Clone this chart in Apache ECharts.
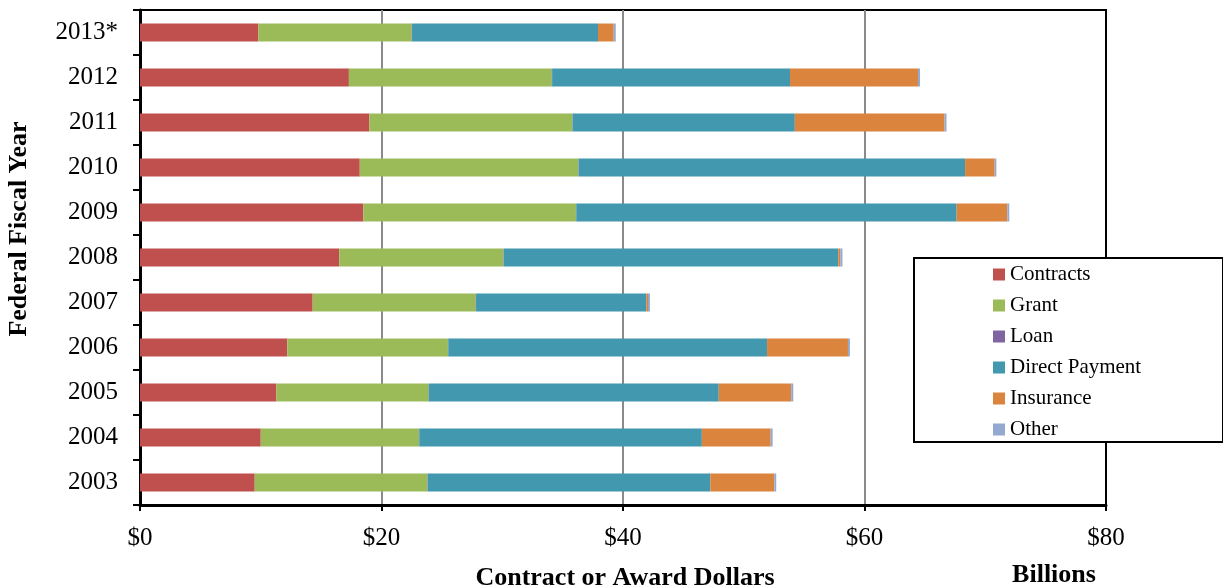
<!DOCTYPE html>
<html>
<head>
<meta charset="utf-8">
<script src="https://cdn.jsdelivr.net/npm/echarts@6/dist/echarts.min.js"></script>
<style>html,body{margin:0;padding:0;background:#fff}#c{width:1223px;height:588px}</style>
</head>
<body>
<div id="c"></div>
<script>
const categories = ['2003','2004','2005','2006','2007','2008','2009','2010','2011','2012','2013*'];
const contracts = [9.5, 10.0, 11.3, 12.2, 14.3, 16.5, 18.5, 18.2, 19.0, 17.3, 9.8];
const grant     = [14.3, 13.1, 12.6, 13.3, 13.5, 13.6, 17.6, 18.1, 16.8, 16.8, 12.7];
const loan      = [0.03, 0.03, 0.03, 0.03, 0.03, 0.03, 0.03, 0.03, 0.03, 0.03, 0.03];
const directPayment = [23.4, 23.4, 24.0, 26.4, 14.1, 27.7, 31.5, 32.0, 18.4, 19.7, 15.4];
const insurance = [5.3, 5.7, 6.0, 6.7, 0.14, 0.17, 4.2, 2.45, 12.4, 10.6, 1.3];
const other     = [0.16, 0.16, 0.17, 0.16, 0.16, 0.17, 0.16, 0.14, 0.16, 0.17, 0.17];
const xTickValues = [0, 20, 40, 60, 80];
const xTickLabels = ['$0', '$20', '$40', '$60', '$80'];

const seriesDefs = [
  ['Contracts', contracts, '#C0504D'],
  ['Grant', grant, '#9BBB59'],
  ['Loan', loan, '#8064A2'],
  ['Direct Payment', directPayment, '#4198AF'],
  ['Insurance', insurance, '#DB843D'],
  ['Other', other, '#93A9CF']
];
const FONT = '"Liberation Serif", "Times New Roman", serif';

const chart = echarts.init(document.getElementById('c'), null, {renderer: 'canvas'});
chart.setOption({
  animation: false,
  backgroundColor: '#fff',
  grid: {left: 140, right: 117, top: 10, bottom: 83, show: true, borderColor: '#000', borderWidth: 2, containLabel: false},
  xAxis: {
    type: 'value', min: 0, max: 80, interval: 20,
    axisLine: {show: true, onZero: false, lineStyle: {color: '#000', width: 3}},
    axisTick: {show: true, length: 6, lineStyle: {color: '#000', width: 2}},
    axisLabel: {
      margin: 21, fontFamily: FONT, fontSize: 25, color: '#000',
      formatter: v => xTickLabels[xTickValues.indexOf(v)]
    },
    splitLine: {show: true, lineStyle: {color: ['#000', '#8a8a8a', '#8a8a8a', '#8a8a8a', '#000'], width: 2}}
  },
  yAxis: {
    type: 'category', data: categories,
    axisLine: {show: true, lineStyle: {color: '#000', width: 3}},
    axisTick: {show: true, length: 7, lineStyle: {color: '#000', width: 2}},
    axisLabel: {margin: 22, fontFamily: FONT, fontSize: 25, color: '#000'},
    splitLine: {show: false}
  },
  legend: {
    orient: 'vertical', left: 993, top: 264, padding: 0,
    itemWidth: 12, itemHeight: 12, itemGap: 10, icon: 'rect',
    textStyle: {fontFamily: FONT, fontSize: 21, color: '#000'},
    data: seriesDefs.map(d => d[0])
  },
  graphic: [
    {type: 'rect', left: 913, top: 257, z: 3, shape: {width: 309, height: 184},
     style: {fill: '#fff', stroke: '#000', lineWidth: 2}},
    {type: 'text', x: 625, y: 578, style: {text: 'Contract or Award Dollars', font: 'bold 26px ' + FONT, fill: '#000', textAlign: 'center', textVerticalAlign: 'middle'}},
    {type: 'text', x: 1054, y: 575, style: {text: 'Billions', font: 'bold 26px ' + FONT, fill: '#000', textAlign: 'center', textVerticalAlign: 'middle'}},
    {type: 'text', x: 19, y: 229, rotation: Math.PI / 2, style: {text: 'Federal Fiscal Year', font: 'bold 26px ' + FONT, fill: '#000', textAlign: 'center', textVerticalAlign: 'middle'}}
  ],
  series: seriesDefs.map(d => ({
    name: d[0], type: 'bar', stack: 'total', data: d[1], barWidth: 18,
    itemStyle: {color: d[2]}
  }))
});
</script>
</body>
</html>
